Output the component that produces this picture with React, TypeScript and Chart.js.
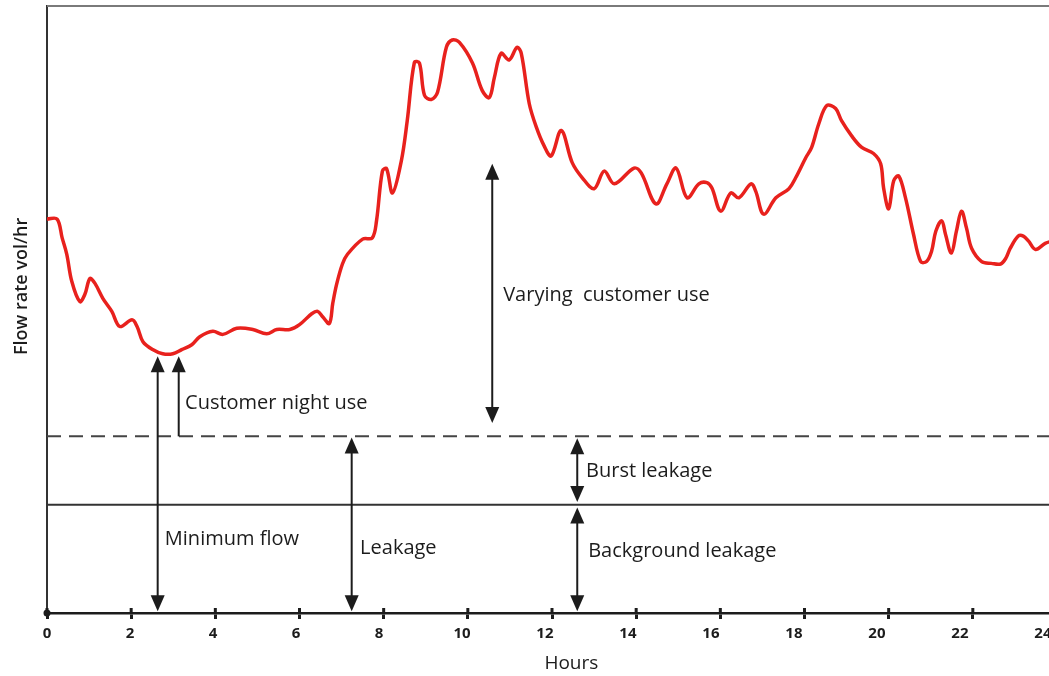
import React, { useEffect, useRef } from 'react';
import { Chart, registerables } from 'chart.js';

Chart.register(...registerables);

// Flow profile over 24 hours (hours, flow rate in relative units 0-100)
const hours = [
  0.0, 0.24, 0.36, 0.47, 0.59, 0.78, 0.9, 1.02, 1.14, 1.33, 1.54, 1.73, 2.02, 2.14, 2.28, 2.51, 2.75, 2.99,
  3.2, 3.44, 3.63, 3.94, 4.18, 4.51, 4.89, 5.22, 5.46, 5.77, 6.0, 6.29, 6.43, 6.55, 6.71, 6.79, 6.88, 7.02,
  7.14, 7.5, 7.73, 7.83, 7.97, 8.07, 8.21, 8.42, 8.56, 8.73, 8.85, 8.97, 9.13, 9.28, 9.49, 9.63, 9.8, 10.11,
  10.34, 10.51, 10.63, 10.79, 10.98, 11.17, 11.27, 11.46, 11.63, 11.81, 11.98, 12.22, 12.48, 12.72, 13.0,
  13.24, 13.48, 13.95, 14.12, 14.47, 14.73, 14.95, 15.21, 15.49, 15.68, 15.8, 16.01, 16.25, 16.44, 16.73,
  16.84, 17.03, 17.32, 17.63, 17.79, 18.03, 18.17, 18.34, 18.53, 18.74, 18.88, 19.12, 19.36, 19.64, 19.81,
  19.88, 20.0, 20.12, 20.24, 20.4, 20.59, 20.76, 20.9, 21.02, 21.12, 21.26, 21.35, 21.49, 21.61, 21.73,
  21.85, 21.97, 22.21, 22.44, 22.66, 22.78, 22.89, 23.08, 23.2, 23.32, 23.49, 23.72, 23.9,
];
const flow = [
  64.9, 64.9, 61.8, 59.1, 54.6, 51.3, 52.5, 55.1, 54.3, 51.8, 49.7, 47.2, 48.3, 47.2, 44.7, 43.4, 42.7, 42.7,
  43.4, 44.2, 45.5, 46.4, 45.9, 46.9, 46.7, 46.0, 46.7, 46.7, 47.5, 49.3, 49.7, 48.8, 47.7, 51.0, 54.1, 57.5,
  59.1, 61.6, 61.8, 64.6, 72.8, 73.2, 69.2, 74.5, 81.1, 90.7, 90.6, 85.3, 84.6, 85.8, 93.2, 94.4, 94.0, 90.6,
  86.1, 84.9, 88.2, 92.2, 91.1, 93.2, 92.2, 83.9, 80.0, 77.0, 75.3, 79.5, 74.2, 71.7, 69.9,
  72.8, 70.7, 73.3, 72.5, 67.4, 70.7, 73.3, 68.4, 70.7, 70.9, 70.0, 66.2, 69.2, 68.4, 70.7,
  69.5, 65.7, 68.4, 69.9, 71.7, 75.0, 76.7, 80.6, 83.6, 83.1, 81.1, 78.6, 76.7, 75.7, 74.0,
  70.0, 66.6, 71.2, 72.0, 68.4, 62.4, 57.9, 57.9, 59.6, 62.9, 64.6, 62.4, 59.3, 62.9, 66.2,
  63.4, 60.1, 57.9, 57.6, 57.5, 58.4, 60.1, 62.1, 62.1, 61.3, 59.9, 60.9, 61.3,
];

const xTicks = [0, 2, 4, 6, 8, 10, 12, 14, 16, 18, 20, 22, 24];
const leakageLevel = 29.1; // dashed line: total leakage
const backgroundLevel = 17.85; // solid line: background leakage

// Vertical arrows (hour, from value, to value, heads)
const arrowX = [2.63, 3.13, 7.24, 10.58, 12.6, 12.6];
const arrowFrom = [0.3, 29.1, 0.3, 31.3, 18.3, 0.3];
const arrowTo = [42.3, 42.3, 28.9, 74.0, 28.8, 17.4];
const arrowHeads = ['both', 'up', 'both', 'both', 'both', 'both'];

// Annotation labels (text, left hour, centre value)
const labelText = [
  'Customer night use',
  'Minimum flow',
  'Leakage',
  'Varying  customer use',
  'Burst leakage',
  'Background leakage',
];
const labelX = [3.28, 2.8, 7.44, 10.84, 12.81, 12.86];
const labelY = [34.6, 12.2, 10.7, 52.3, 23.4, 10.2];

const yTitle = 'Flow rate vol/hr';
const xTitle = 'Hours';

const FONT = '"Open Sans", "Noto Sans", sans-serif';
const INK = '#1c1c1c';

const annotationPlugin = {
  id: 'annotations',
  afterDraw(chart: any) {
    const { ctx, chartArea, scales } = chart;
    const xs = scales.x;
    const ys = scales.y;
    ctx.save();

    // top frame line
    ctx.strokeStyle = '#7a7a7a';
    ctx.lineWidth = 2;
    ctx.beginPath();
    ctx.moveTo(chartArea.left, chartArea.top);
    ctx.lineTo(chart.width, chartArea.top);
    ctx.stroke();

    // upper half of crossing tick marks
    ctx.strokeStyle = '#1c1c1c';
    ctx.lineWidth = 3;
    xTicks.forEach((t) => {
      const px = xs.getPixelForValue(t);
      ctx.beginPath();
      ctx.moveTo(px, chartArea.bottom - 5);
      ctx.lineTo(px, chartArea.bottom);
      ctx.stroke();
    });
    // origin dot
    ctx.fillStyle = INK;
    ctx.beginPath();
    ctx.arc(xs.getPixelForValue(0), chartArea.bottom, 3.5, 0, Math.PI * 2);
    ctx.fill();

    // arrows
    const head = (x: number, y: number, dir: number) => {
      ctx.beginPath();
      ctx.moveTo(x, y);
      ctx.lineTo(x - 7, y - dir * 16);
      ctx.lineTo(x + 7, y - dir * 16);
      ctx.closePath();
      ctx.fill();
    };
    ctx.strokeStyle = INK;
    ctx.fillStyle = INK;
    ctx.lineWidth = 2;
    arrowX.forEach((h, i) => {
      const px = xs.getPixelForValue(h);
      const yBottom = ys.getPixelForValue(arrowFrom[i]);
      const yTop = ys.getPixelForValue(arrowTo[i]);
      const heads = arrowHeads[i];
      ctx.beginPath();
      ctx.moveTo(px, heads === 'up' ? yBottom : yBottom - 8);
      ctx.lineTo(px, yTop + 8);
      ctx.stroke();
      head(px, yTop, -1);
      if (heads === 'both') head(px, yBottom, 1);
    });

    // labels
    ctx.fillStyle = INK;
    ctx.font = `20px ${FONT}`;
    ctx.textAlign = 'left';
    ctx.textBaseline = 'middle';
    labelText.forEach((t, i) => {
      ctx.fillText(t, xs.getPixelForValue(labelX[i]), ys.getPixelForValue(labelY[i]));
    });

    // x title
    ctx.font = `19px ${FONT}`;
    ctx.textAlign = 'center';
    ctx.fillText(xTitle, xs.getPixelForValue(12.46), chartArea.bottom + 51);

    // y title
    ctx.save();
    ctx.translate(chartArea.left - 25, ys.getPixelForValue(53.8));
    ctx.rotate(-Math.PI / 2);
    ctx.font = `600 18px ${FONT}`;
    ctx.textAlign = 'center';
    ctx.textBaseline = 'middle';
    ctx.fillText(yTitle, 0, 0);
    ctx.restore();

    ctx.restore();
  },
};

export default function App() {
  const canvasRef = useRef<HTMLCanvasElement | null>(null);

  useEffect(() => {
    if (!canvasRef.current) return;
    const chart = new Chart(canvasRef.current, {
      type: 'line',
      data: {
        datasets: [
          {
            data: hours.map((h, i) => ({ x: h, y: flow[i] })),
            borderColor: '#e8211d',
            borderWidth: 3.5,
            pointRadius: 0,
            tension: 0.35,
            fill: false,
          },
          {
            data: [
              { x: 0, y: leakageLevel },
              { x: 24, y: leakageLevel },
            ],
            borderColor: '#444',
            borderWidth: 2,
            borderDash: [14, 8],
            pointRadius: 0,
          },
          {
            data: [
              { x: 0, y: backgroundLevel },
              { x: 24, y: backgroundLevel },
            ],
            borderColor: '#333',
            borderWidth: 2,
            pointRadius: 0,
          },
        ],
      },
      options: {
        responsive: false,
        animation: false,
        devicePixelRatio: 1,
        layout: { padding: { left: 47, right: 18, top: 6, bottom: 27 } },
        plugins: {
          legend: { display: false },
          tooltip: { enabled: false },
        },
        scales: {
          x: {
            type: 'linear',
            min: 0,
            max: 24,
            afterBuildTicks: (scale: any) => {
              scale.ticks = xTicks.map((v) => ({ value: v }));
            },
            ticks: { display: false },
            grid: {
              display: true,
              drawOnChartArea: false,
              drawTicks: true,
              tickLength: 6,
              tickWidth: 3,
              tickColor: '#1c1c1c',
            },
            border: { display: true, color: '#1c1c1c', width: 2.5 },
          },
          xl: {
            type: 'linear',
            position: 'bottom',
            min: 0,
            max: 24.34,
            afterBuildTicks: (scale: any) => {
              scale.ticks = xTicks.map((v) => ({ value: v }));
            },
            ticks: {
              autoSkip: false,
              maxRotation: 0,
              padding: 6,
              color: INK,
              font: { family: FONT, size: 15, weight: 'bold' },
            },
            grid: { display: false, drawTicks: false },
            border: { display: false },
          },
          y: {
            min: 0,
            max: 100,
            ticks: { display: false },
            grid: { display: false, drawTicks: false },
            border: { display: true, color: '#333', width: 2 },
          },
        },
      },
      plugins: [annotationPlugin],
    });
    return () => chart.destroy();
  }, []);

  return (
    <div
      style={{
        position: 'absolute',
        left: 0,
        top: 0,
        width: 1049,
        height: 676,
        overflow: 'hidden',
        background: '#fff',
      }}
    >
      <canvas ref={canvasRef} width={1075} height={676} style={{ display: 'block' }} />
    </div>
  );
}
